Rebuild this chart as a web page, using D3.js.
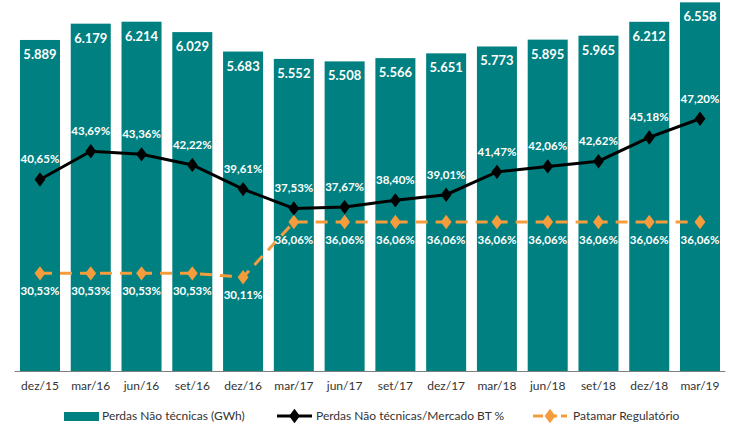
<!DOCTYPE html>
<html><head><meta charset="utf-8">
<script src="https://cdn.jsdelivr.net/npm/d3@7"></script>
<style>body{margin:0;background:#fff}svg{display:block;font-family:Lato,"Open Sans",sans-serif}</style>
</head><body><svg id="c" width="741" height="437"></svg>
<script>
const categories=["dez/15","mar/16","jun/16","set/16","dez/16","mar/17","jun/17","set/17","dez/17","mar/18","jun/18","set/18","dez/18","mar/19"];
const perdasGWh=[5889,6179,6214,6029,5683,5552,5508,5566,5651,5773,5895,5965,6212,6558];
const perdasPct=[40.65,43.69,43.36,42.22,39.61,37.53,37.67,38.40,39.01,41.47,42.06,42.62,45.18,47.20];
const patamar=[30.53,30.53,30.53,30.53,30.11,36.06,36.06,36.06,36.06,36.06,36.06,36.06,36.06,36.06];
const seriesNames=["Perdas Não técnicas (GWh)","Perdas Não técnicas/Mercado BT %","Patamar Regulatório"];

const teal="#008080", orange="#F59D3D", black="#000";
const loc=d3.formatLocale({decimal:",",thousands:".",grouping:[3],currency:["R$",""]});
const fInt=loc.format(",d"), fPct=v=>loc.format(".2f")(v)+"%";

const svg=d3.select("#c");
const x=d3.scaleBand().domain(categories).range([14.6,725.4]).paddingInner(0.212).paddingOuter(0.106);
const y=d3.scaleLinear().domain([0,6600]).range([371,0]);
const y2=d3.scaleLinear().domain([20,60]).range([371,0]);
const cx=d=>x(d)+x.bandwidth()/2;

// bars
svg.append("g").selectAll("rect").data(categories).join("rect")
 .attr("x",d=>x(d)).attr("width",x.bandwidth())
 .attr("y",(d,i)=>y(perdasGWh[i])).attr("height",(d,i)=>y(0)-y(perdasGWh[i]))
 .attr("fill",teal);

// axis
const ax=svg.append("g").attr("transform","translate(0,371)").call(d3.axisBottom(x).tickSize(0).tickPadding(10));
ax.select(".domain").attr("stroke","#7f7f7f").attr("d","M14.6,0.5H725.4");
ax.selectAll("text").attr("font-size",12).attr("fill","#333").attr("font-family","Lato");

// bar labels
svg.append("g").selectAll("text").data(categories).join("text")
 .attr("x",d=>cx(d)).attr("y",(d,i)=>y(perdasGWh[i])+19)
 .attr("text-anchor","middle").attr("fill","#fff").attr("font-weight","bold").attr("font-size",13)
 .text((d,i)=>fInt(perdasGWh[i]));

const diamond=d3.symbol().type(d3.symbolDiamond).size(60);

// patamar line
const linePat=d3.line().x((d,i)=>cx(categories[i])).y(d=>y2(d));
svg.append("path").datum(patamar).attr("d",linePat).attr("fill","none")
 .attr("stroke",orange).attr("stroke-width",3).attr("stroke-dasharray","12,8");
svg.append("g").selectAll("path").data(patamar).join("path")
 .attr("transform",(d,i)=>`translate(${cx(categories[i])},${y2(d)}) scale(1.3,1)`)
 .attr("d",diamond).attr("fill",orange);

// main pct line
const lineP=d3.line().x((d,i)=>cx(categories[i])).y(d=>y2(d));
svg.append("path").datum(perdasPct).attr("d",lineP).attr("fill","none")
 .attr("stroke",black).attr("stroke-width",3);
svg.append("g").selectAll("path").data(perdasPct).join("path")
 .attr("transform",(d,i)=>`translate(${cx(categories[i])},${y2(d)}) scale(1.3,1)`)
 .attr("d",diamond).attr("fill",black);

// pct labels
svg.append("g").selectAll("text").data(perdasPct).join("text")
 .attr("x",(d,i)=>cx(categories[i])).attr("y",d=>y2(d)-16)
 .attr("text-anchor","middle").attr("fill","#fff").attr("font-size",11.5).attr("font-weight","bold")
 .text(d=>fPct(d));
svg.append("g").selectAll("text").data(patamar).join("text")
 .attr("x",(d,i)=>cx(categories[i])).attr("y",d=>y2(d)+22)
 .attr("text-anchor","middle").attr("fill","#fff").attr("font-size",11.5).attr("font-weight","bold")
 .text(d=>fPct(d));

// legend
const lg=svg.append("g").attr("font-size",12).attr("fill","#333");
lg.append("rect").attr("x",64).attr("y",412).attr("width",35).attr("height",9).attr("fill",teal);
lg.append("text").attr("x",102).attr("y",420).text(seriesNames[0]).attr("fill","#333");
lg.append("line").attr("x1",277).attr("x2",312).attr("y1",416).attr("y2",416).attr("stroke",black).attr("stroke-width",3);
lg.append("path").attr("transform","translate(294.5,416) scale(1.3,1)").attr("d",diamond).attr("fill",black);
lg.append("text").attr("x",316).attr("y",420).text(seriesNames[1]).attr("fill","#333");
lg.append("line").attr("x1",533).attr("x2",567).attr("y1",416).attr("y2",416).attr("stroke",orange).attr("stroke-width",3).attr("stroke-dasharray","10,4");
lg.append("path").attr("transform","translate(550,416) scale(1.3,1)").attr("d",diamond).attr("fill",orange);
lg.append("text").attr("x",573).attr("y",420).text(seriesNames[2]).attr("fill","#333");
</script></body></html>
